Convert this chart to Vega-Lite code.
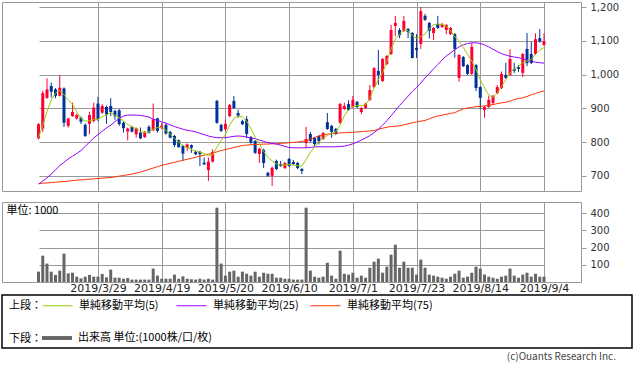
{
"$schema": "https://vega.github.io/schema/vega-lite/v6.json",
"padding": {"left": 1, "top": 1, "right": 0, "bottom": 0},
"bounds": "flush",
"config": {
  "view": {"stroke": "#999999"},
  "axis": {"gridColor": "#999999", "gridWidth": 1, "domain": false, "labelFont": "DejaVu Sans", "labelFontSize": 10, "labelColor": "#333333", "tickColor": "#999999", "tickSize": 5},
  "legend": {"padding": 0, "labelFont": "Noto Sans CJK JP", "labelFontSize": 11, "labelColor": "#000000", "titleFont": "Noto Sans CJK JP", "titleFontSize": 11, "titleFontWeight": "normal", "titleColor": "#000000", "labelLimit": 300}
},
"datasets": {"ohlc": [
{"date":"2019/3/8","open":811,"high":856,"low":808,"close":853,"volume":60,"ma5":813,"ma25":675,"ma75":677},
{"date":"2019/3/11","open":840,"high":952,"low":830,"close":945,"volume":153,"ma5":850,"ma25":684,"ma75":678},
{"date":"2019/3/12","open":931,"high":989,"low":928,"close":956,"volume":107,"ma5":890,"ma25":694,"ma75":679},
{"date":"2019/3/13","open":966,"high":976,"low":932,"close":949,"volume":60,"ma5":925,"ma25":705,"ma75":680},
{"date":"2019/3/14","open":956,"high":960,"low":930,"close":937,"volume":41,"ma5":945,"ma25":718,"ma75":681},
{"date":"2019/3/15","open":937,"high":999,"low":935,"close":961,"volume":66,"ma5":953,"ma25":730,"ma75":682},
{"date":"2019/3/18","open":959,"high":962,"low":845,"close":857,"volume":165,"ma5":940,"ma25":740,"ma75":683},
{"date":"2019/3/19","open":848,"high":872,"low":843,"close":870,"volume":50,"ma5":925,"ma25":750,"ma75":684},
{"date":"2019/3/20","open":877,"high":917,"low":875,"close":889,"volume":54,"ma5":912,"ma25":758,"ma75":686},
{"date":"2019/3/22","open":870,"high":884,"low":866,"close":880,"volume":31,"ma5":890,"ma25":766,"ma75":687},
{"date":"2019/3/25","open":872,"high":876,"low":853,"close":860,"volume":21,"ma5":870,"ma25":775,"ma75":688},
{"date":"2019/3/26","open":851,"high":855,"low":815,"close":818,"volume":31,"ma5":862,"ma25":787,"ma75":689},
{"date":"2019/3/27","open":854,"high":890,"low":823,"close":880,"volume":41,"ma5":863,"ma25":800,"ma75":690},
{"date":"2019/3/28","open":862,"high":917,"low":858,"close":902,"volume":31,"ma5":866,"ma25":812,"ma75":691},
{"date":"2019/3/29","open":914,"high":934,"low":862,"close":868,"volume":31,"ma5":868,"ma25":822,"ma75":692},
{"date":"2019/4/1","open":887,"high":912,"low":884,"close":907,"volume":47,"ma5":875,"ma25":832,"ma75":693},
{"date":"2019/4/2","open":904,"high":908,"low":854,"close":882,"volume":27,"ma5":880,"ma25":842,"ma75":694},
{"date":"2019/4/3","open":907,"high":930,"low":877,"close":889,"volume":72,"ma5":887,"ma25":850,"ma75":695},
{"date":"2019/4/4","open":892,"high":896,"low":866,"close":877,"volume":25,"ma5":880,"ma25":860,"ma75":697},
{"date":"2019/4/5","open":894,"high":898,"low":848,"close":853,"volume":25,"ma5":872,"ma25":870,"ma75":699},
{"date":"2019/4/8","open":857,"high":862,"low":828,"close":841,"volume":19,"ma5":862,"ma25":877,"ma75":701},
{"date":"2019/4/9","open":831,"high":843,"low":805,"close":840,"volume":23,"ma5":852,"ma25":880,"ma75":703},
{"date":"2019/4/10","open":845,"high":848,"low":828,"close":831,"volume":14,"ma5":845,"ma25":880,"ma75":705},
{"date":"2019/4/11","open":823,"high":843,"low":813,"close":841,"volume":14,"ma5":840,"ma25":880,"ma75":708},
{"date":"2019/4/12","open":828,"high":843,"low":808,"close":811,"volume":14,"ma5":832,"ma25":879,"ma75":711},
{"date":"2019/4/15","open":815,"high":833,"low":812,"close":830,"volume":14,"ma5":828,"ma25":877,"ma75":715},
{"date":"2019/4/16","open":845,"high":850,"low":825,"close":828,"volume":14,"ma5":830,"ma25":874,"ma75":719},
{"date":"2019/4/17","open":835,"high":914,"low":832,"close":867,"volume":78,"ma5":838,"ma25":868,"ma75":723},
{"date":"2019/4/18","open":870,"high":872,"low":828,"close":833,"volume":37,"ma5":843,"ma25":864,"ma75":727},
{"date":"2019/4/19","open":841,"high":857,"low":838,"close":848,"volume":19,"ma5":843,"ma25":860,"ma75":731},
{"date":"2019/4/22","open":851,"high":855,"low":822,"close":825,"volume":19,"ma5":835,"ma25":856,"ma75":734},
{"date":"2019/4/23","open":830,"high":833,"low":811,"close":813,"volume":19,"ma5":823,"ma25":851,"ma75":737},
{"date":"2019/4/24","open":818,"high":821,"low":785,"close":791,"volume":43,"ma5":810,"ma25":846,"ma75":740},
{"date":"2019/4/25","open":805,"high":808,"low":783,"close":785,"volume":19,"ma5":800,"ma25":842,"ma75":743},
{"date":"2019/4/26","open":788,"high":792,"low":744,"close":766,"volume":33,"ma5":790,"ma25":838,"ma75":746},
{"date":"2019/5/7","open":783,"high":796,"low":773,"close":793,"volume":19,"ma5":783,"ma25":835,"ma75":749},
{"date":"2019/5/8","open":791,"high":793,"low":768,"close":783,"volume":16,"ma5":778,"ma25":833,"ma75":752},
{"date":"2019/5/9","open":771,"high":774,"low":761,"close":764,"volume":14,"ma5":774,"ma25":830,"ma75":755},
{"date":"2019/5/10","open":771,"high":774,"low":729,"close":764,"volume":19,"ma5":770,"ma25":826,"ma75":758},
{"date":"2019/5/13","open":739,"high":754,"low":732,"close":734,"volume":14,"ma5":766,"ma25":822,"ma75":761},
{"date":"2019/5/14","open":717,"high":754,"low":685,"close":742,"volume":19,"ma5":760,"ma25":818,"ma75":764},
{"date":"2019/5/15","open":742,"high":779,"low":739,"close":771,"volume":14,"ma5":762,"ma25":815,"ma75":767},
{"date":"2019/5/16","open":922,"high":925,"low":854,"close":857,"volume":432,"ma5":785,"ma25":813,"ma75":771},
{"date":"2019/5/17","open":851,"high":854,"low":830,"close":833,"volume":107,"ma5":805,"ma25":813,"ma75":775},
{"date":"2019/5/20","open":838,"high":867,"low":833,"close":854,"volume":37,"ma5":822,"ma25":813,"ma75":778},
{"date":"2019/5/21","open":877,"high":913,"low":874,"close":910,"volume":60,"ma5":850,"ma25":815,"ma75":781},
{"date":"2019/5/22","open":922,"high":936,"low":898,"close":901,"volume":66,"ma5":870,"ma25":817,"ma75":784},
{"date":"2019/5/23","open":886,"high":896,"low":872,"close":878,"volume":31,"ma5":877,"ma25":818,"ma75":787},
{"date":"2019/5/24","open":862,"high":866,"low":850,"close":853,"volume":60,"ma5":875,"ma25":817,"ma75":790},
{"date":"2019/5/27","open":868,"high":877,"low":812,"close":824,"volume":48,"ma5":862,"ma25":815,"ma75":791},
{"date":"2019/5/28","open":815,"high":818,"low":795,"close":798,"volume":37,"ma5":840,"ma25":812,"ma75":792},
{"date":"2019/5/29","open":803,"high":806,"low":765,"close":768,"volume":60,"ma5":815,"ma25":810,"ma75":793},
{"date":"2019/5/30","open":765,"high":783,"low":738,"close":780,"volume":31,"ma5":795,"ma25":806,"ma75":793},
{"date":"2019/5/31","open":777,"high":780,"low":723,"close":738,"volume":54,"ma5":772,"ma25":802,"ma75":794},
{"date":"2019/6/3","open":709,"high":712,"low":697,"close":700,"volume":48,"ma5":755,"ma25":798,"ma75":794},
{"date":"2019/6/4","open":700,"high":727,"low":670,"close":724,"volume":48,"ma5":744,"ma25":796,"ma75":795},
{"date":"2019/6/5","open":744,"high":748,"low":717,"close":720,"volume":25,"ma5":735,"ma25":794,"ma75":795},
{"date":"2019/6/6","open":735,"high":744,"low":726,"close":729,"volume":25,"ma5":732,"ma25":791,"ma75":796},
{"date":"2019/6/7","open":723,"high":741,"low":720,"close":738,"volume":19,"ma5":732,"ma25":787,"ma75":797},
{"date":"2019/6/10","open":750,"high":753,"low":726,"close":729,"volume":19,"ma5":733,"ma25":784,"ma75":798},
{"date":"2019/6/11","open":741,"high":747,"low":732,"close":735,"volume":14,"ma5":732,"ma25":783,"ma75":799},
{"date":"2019/6/12","open":738,"high":741,"low":720,"close":723,"volume":14,"ma5":730,"ma25":783,"ma75":800},
{"date":"2019/6/13","open":720,"high":723,"low":705,"close":714,"volume":14,"ma5":729,"ma25":783,"ma75":802},
{"date":"2019/6/14","open":797,"high":845,"low":782,"close":809,"volume":432,"ma5":748,"ma25":783,"ma75":804},
{"date":"2019/6/17","open":824,"high":830,"low":800,"close":803,"volume":66,"ma5":770,"ma25":784,"ma75":808},
{"date":"2019/6/18","open":812,"high":815,"low":788,"close":794,"volume":31,"ma5":785,"ma25":786,"ma75":814},
{"date":"2019/6/19","open":818,"high":821,"low":793,"close":803,"volume":25,"ma5":800,"ma25":786,"ma75":818},
{"date":"2019/6/20","open":809,"high":830,"low":806,"close":827,"volume":31,"ma5":812,"ma25":786,"ma75":821},
{"date":"2019/6/21","open":859,"high":886,"low":836,"close":839,"volume":112,"ma5":820,"ma25":786,"ma75":823},
{"date":"2019/6/24","open":848,"high":851,"low":813,"close":830,"volume":37,"ma5":825,"ma25":786,"ma75":825},
{"date":"2019/6/25","open":839,"high":842,"low":821,"close":824,"volume":19,"ma5":830,"ma25":786,"ma75":826},
{"date":"2019/6/26","open":857,"high":916,"low":854,"close":913,"volume":182,"ma5":850,"ma25":787,"ma75":827},
{"date":"2019/6/27","open":898,"high":917,"low":895,"close":907,"volume":48,"ma5":878,"ma25":788,"ma75":828},
{"date":"2019/6/28","open":913,"high":924,"low":892,"close":895,"volume":43,"ma5":895,"ma25":791,"ma75":828},
{"date":"2019/7/1","open":904,"high":937,"low":901,"close":925,"volume":54,"ma5":905,"ma25":795,"ma75":829},
{"date":"2019/7/2","open":919,"high":922,"low":901,"close":904,"volume":25,"ma5":908,"ma25":800,"ma75":830},
{"date":"2019/7/3","open":889,"high":904,"low":882,"close":901,"volume":37,"ma5":908,"ma25":806,"ma75":831},
{"date":"2019/7/4","open":901,"high":916,"low":898,"close":913,"volume":25,"ma5":910,"ma25":812,"ma75":832},
{"date":"2019/7/5","open":925,"high":969,"low":922,"close":954,"volume":83,"ma5":930,"ma25":819,"ma75":833},
{"date":"2019/7/8","open":963,"high":1022,"low":960,"close":1019,"volume":118,"ma5":960,"ma25":828,"ma75":834},
{"date":"2019/7/9","open":1011,"high":1073,"low":969,"close":999,"volume":136,"ma5":985,"ma25":838,"ma75":838},
{"date":"2019/7/10","open":981,"high":1049,"low":978,"close":1046,"volume":54,"ma5":1005,"ma25":850,"ma75":841},
{"date":"2019/7/11","open":1031,"high":1058,"low":1028,"close":1055,"volume":89,"ma5":1040,"ma25":863,"ma75":844},
{"date":"2019/7/12","open":1061,"high":1147,"low":1058,"close":1132,"volume":159,"ma5":1075,"ma25":878,"ma75":846},
{"date":"2019/7/16","open":1144,"high":1174,"low":1114,"close":1153,"volume":217,"ma5":1105,"ma25":893,"ma75":847},
{"date":"2019/7/17","open":1132,"high":1138,"low":1108,"close":1117,"volume":83,"ma5":1120,"ma25":908,"ma75":848},
{"date":"2019/7/18","open":1129,"high":1174,"low":1126,"close":1159,"volume":118,"ma5":1133,"ma25":922,"ma75":851},
{"date":"2019/7/19","open":1135,"high":1138,"low":1108,"close":1126,"volume":83,"ma5":1130,"ma25":936,"ma75":854},
{"date":"2019/7/22","open":1123,"high":1126,"low":1048,"close":1049,"volume":83,"ma5":1115,"ma25":950,"ma75":857},
{"date":"2019/7/23","open":1079,"high":1120,"low":1049,"close":1073,"volume":43,"ma5":1108,"ma25":962,"ma75":860},
{"date":"2019/7/24","open":1091,"high":1200,"low":1076,"close":1188,"volume":130,"ma5":1112,"ma25":975,"ma75":862},
{"date":"2019/7/25","open":1174,"high":1180,"low":1159,"close":1162,"volume":83,"ma5":1120,"ma25":990,"ma75":864},
{"date":"2019/7/26","open":1153,"high":1156,"low":1107,"close":1129,"volume":43,"ma5":1135,"ma25":1003,"ma75":869},
{"date":"2019/7/29","open":1123,"high":1141,"low":1102,"close":1138,"volume":37,"ma5":1148,"ma25":1017,"ma75":874},
{"date":"2019/7/30","open":1150,"high":1174,"low":1135,"close":1138,"volume":31,"ma5":1150,"ma25":1030,"ma75":877},
{"date":"2019/7/31","open":1141,"high":1153,"low":1138,"close":1150,"volume":25,"ma5":1148,"ma25":1043,"ma75":880},
{"date":"2019/8/1","open":1132,"high":1150,"low":1119,"close":1147,"volume":19,"ma5":1144,"ma25":1055,"ma75":882},
{"date":"2019/8/2","open":1120,"high":1141,"low":1117,"close":1138,"volume":31,"ma5":1130,"ma25":1064,"ma75":885},
{"date":"2019/8/5","open":1120,"high":1123,"low":1050,"close":1076,"volume":48,"ma5":1112,"ma25":1074,"ma75":887},
{"date":"2019/8/6","open":990,"high":1061,"low":979,"close":1058,"volume":66,"ma5":1100,"ma25":1082,"ma75":893},
{"date":"2019/8/7","open":1052,"high":1055,"low":1022,"close":1025,"volume":25,"ma5":1080,"ma25":1088,"ma75":898},
{"date":"2019/8/8","open":1028,"high":1031,"low":999,"close":1002,"volume":31,"ma5":1060,"ma25":1092,"ma75":901},
{"date":"2019/8/9","open":1002,"high":1094,"low":999,"close":1082,"volume":54,"ma5":1040,"ma25":1094,"ma75":903},
{"date":"2019/8/13","open":1028,"high":1031,"low":951,"close":960,"volume":89,"ma5":1015,"ma25":1094,"ma75":905},
{"date":"2019/8/14","open":963,"high":966,"low":897,"close":931,"volume":78,"ma5":985,"ma25":1092,"ma75":906},
{"date":"2019/8/15","open":895,"high":907,"low":872,"close":904,"volume":43,"ma5":960,"ma25":1088,"ma75":907},
{"date":"2019/8/16","open":904,"high":937,"low":901,"close":925,"volume":31,"ma5":940,"ma25":1082,"ma75":909},
{"date":"2019/8/19","open":916,"high":940,"low":912,"close":937,"volume":25,"ma5":932,"ma25":1075,"ma75":911},
{"date":"2019/8/20","open":945,"high":969,"low":942,"close":963,"volume":19,"ma5":945,"ma25":1068,"ma75":914},
{"date":"2019/8/21","open":960,"high":1009,"low":957,"close":1002,"volume":31,"ma5":965,"ma25":1062,"ma75":916},
{"date":"2019/8/22","open":999,"high":1035,"low":987,"close":990,"volume":37,"ma5":985,"ma25":1058,"ma75":918},
{"date":"2019/8/23","open":999,"high":1075,"low":996,"close":1046,"volume":78,"ma5":1005,"ma25":1054,"ma75":921},
{"date":"2019/8/26","open":1017,"high":1035,"low":1005,"close":1011,"volume":37,"ma5":1016,"ma25":1052,"ma75":926},
{"date":"2019/8/27","open":1022,"high":1028,"low":1008,"close":1017,"volume":25,"ma5":1025,"ma25":1050,"ma75":929},
{"date":"2019/8/28","open":1005,"high":1064,"low":993,"close":1061,"volume":43,"ma5":1035,"ma25":1047,"ma75":931},
{"date":"2019/8/29","open":1076,"high":1123,"low":1025,"close":1034,"volume":54,"ma5":1040,"ma25":1043,"ma75":935},
{"date":"2019/8/30","open":1061,"high":1097,"low":1031,"close":1034,"volume":31,"ma5":1045,"ma25":1039,"ma75":940},
{"date":"2019/9/2","open":1061,"high":1122,"low":1058,"close":1105,"volume":48,"ma5":1060,"ma25":1037,"ma75":944},
{"date":"2019/9/3","open":1108,"high":1135,"low":1094,"close":1099,"volume":31,"ma5":1072,"ma25":1035,"ma75":948},
{"date":"2019/9/4","open":1088,"high":1122,"low":1085,"close":1099,"volume":31,"ma5":1080,"ma25":1034,"ma75":951}
]},
"spacing": 11,
"vconcat": [
  {
    "width": 579, "height": 189,
    "data": {"name": "ohlc"},
    "encoding": {
      "x": {"field": "date", "type": "ordinal", "sort": null,
        "scale": {"type": "point", "padding": 0, "range": [36.5, 542]},
        "axis": {"values": ["2019/3/29","2019/4/19","2019/5/20","2019/6/10","2019/7/1","2019/7/23","2019/8/14","2019/9/4"], "labels": false, "ticks": false, "domain": false, "grid": true, "title": null}}
    },
    "layer": [
      {"mark": {"type": "rule", "strokeWidth": 1},
       "encoding": {
         "y": {"field": "low", "type": "quantitative", "scale": {"domain": [655, 1215], "nice": false, "zero": false},
           "axis": {"orient": "right", "values": [700,800,900,1000,1100,1200], "labelExpr": "format(datum.value, ',')", "grid": true, "title": null, "labelPadding": 4}},
         "y2": {"field": "high"},
         "color": {"condition": {"test": "datum.close >= datum.open", "value": "#ff0033"}, "value": "#003399"}
       }},
      {"mark": {"type": "bar", "size": 3},
       "encoding": {
         "y": {"field": "open", "type": "quantitative", "scale": {"domain": [655, 1215], "nice": false, "zero": false},
           "axis": {"orient": "right", "values": [700,800,900,1000,1100,1200], "labelExpr": "format(datum.value, ',')", "grid": true, "title": null, "labelPadding": 4}},
         "y2": {"field": "close"},
         "color": {"condition": {"test": "datum.close >= datum.open", "value": "#ff0033"}, "value": "#003399"}
       }},
      {"mark": {"type": "line", "strokeWidth": 1},
       "encoding": {
         "y": {"field": "ma75", "type": "quantitative", "scale": {"domain": [655, 1215], "nice": false, "zero": false},
           "axis": {"orient": "right", "values": [700,800,900,1000,1100,1200], "labelExpr": "format(datum.value, ',')", "grid": true, "title": null, "labelPadding": 4}},
         "stroke": {"datum": "単純移動平均(75)", "type": "nominal",
           "scale": {"domain": ["単純移動平均(5)", "単純移動平均(25)", "単純移動平均(75)"], "range": ["#99cc00", "#9900ff", "#ff3300"]},
           "legend": {"orient": "none", "legendX": 7, "legendY": 288, "direction": "horizontal", "title": "上段：", "titleOrient": "left", "titleAnchor": "middle", "titleBaseline": "middle", "titlePadding": 0, "symbolType": "stroke", "symbolSize": 900, "symbolStrokeWidth": 1, "labelOffset": 6, "columnPadding": 9, "gridAlign": "all",
             "encode": {"title": {"update": {"dy": {"value": 6}}}}}}
       }},
      {"mark": {"type": "line", "strokeWidth": 1},
       "encoding": {
         "y": {"field": "ma25", "type": "quantitative", "scale": {"domain": [655, 1215], "nice": false, "zero": false},
           "axis": {"orient": "right", "values": [700,800,900,1000,1100,1200], "labelExpr": "format(datum.value, ',')", "grid": true, "title": null, "labelPadding": 4}},
         "stroke": {"datum": "単純移動平均(25)", "type": "nominal"}
       }},
      {"mark": {"type": "line", "strokeWidth": 1},
       "encoding": {
         "y": {"field": "ma5", "type": "quantitative", "scale": {"domain": [655, 1215], "nice": false, "zero": false},
           "axis": {"orient": "right", "values": [700,800,900,1000,1100,1200], "labelExpr": "format(datum.value, ',')", "grid": true, "title": null, "labelPadding": 4}},
         "stroke": {"datum": "単純移動平均(5)", "type": "nominal"}
       }}
    ]
  },
  {
    "spacing": 13,
    "bounds": "flush",
    "vconcat": [
      {
        "width": 579, "height": 80,
        "data": {"name": "ohlc"},
        "mark": {"type": "bar", "size": 3},
        "encoding": {
          "x": {"field": "date", "type": "ordinal", "sort": null,
            "scale": {"type": "point", "padding": 0, "range": [36.5, 542]},
            "axis": {"values": ["2019/3/29","2019/4/19","2019/5/20","2019/6/10","2019/7/1","2019/7/23","2019/8/14","2019/9/4"], "labelAngle": 0, "labelFontSize": 11, "labelColor": "#222222", "labelPadding": 0, "ticks": false, "domain": false, "grid": true, "title": null}},
          "y": {"field": "volume", "type": "quantitative", "scale": {"domain": [0, 465], "nice": false},
            "axis": {"orient": "right", "values": [100,200,300,400], "grid": true, "labelPadding": 4,
              "title": "単位: 1000", "titleAngle": 0, "titleX": -575, "titleY": 2, "titleAlign": "left", "titleBaseline": "top", "titleFont": "Noto Sans CJK JP", "titleFontSize": 11, "titleFontWeight": "normal", "titleColor": "#000000"}},
          "fill": {"datum": "出来高 単位:(1000株/口/枚)", "type": "nominal",
            "scale": {"range": ["#666666"]},
            "legend": {"orient": "none", "legendX": 7, "legendY": 321, "title": "下段：", "titleOrient": "left", "titleAnchor": "middle", "titleBaseline": "middle", "titlePadding": 0, "symbolType": "M-1,-0.13H1V0.13H-1Z", "symbolSize": 900, "symbolStrokeWidth": 0, "labelOffset": 6,
              "encode": {"title": {"update": {"dy": {"value": 6}}}}}}
        }
      },
      {
        "width": 630, "height": 53,
        "view": {"stroke": "#000000", "strokeWidth": 1.5},
        "data": {"values": []},
        "title": {"text": "(c)Ouants Research Inc.", "orient": "bottom", "anchor": "end", "offset": 4, "dx": -16, "font": "Noto Sans CJK JP", "fontSize": 10, "fontWeight": "normal", "color": "#444444"},
        "mark": "rule",
        "encoding": {}
      }
    ]
  }
]
}
